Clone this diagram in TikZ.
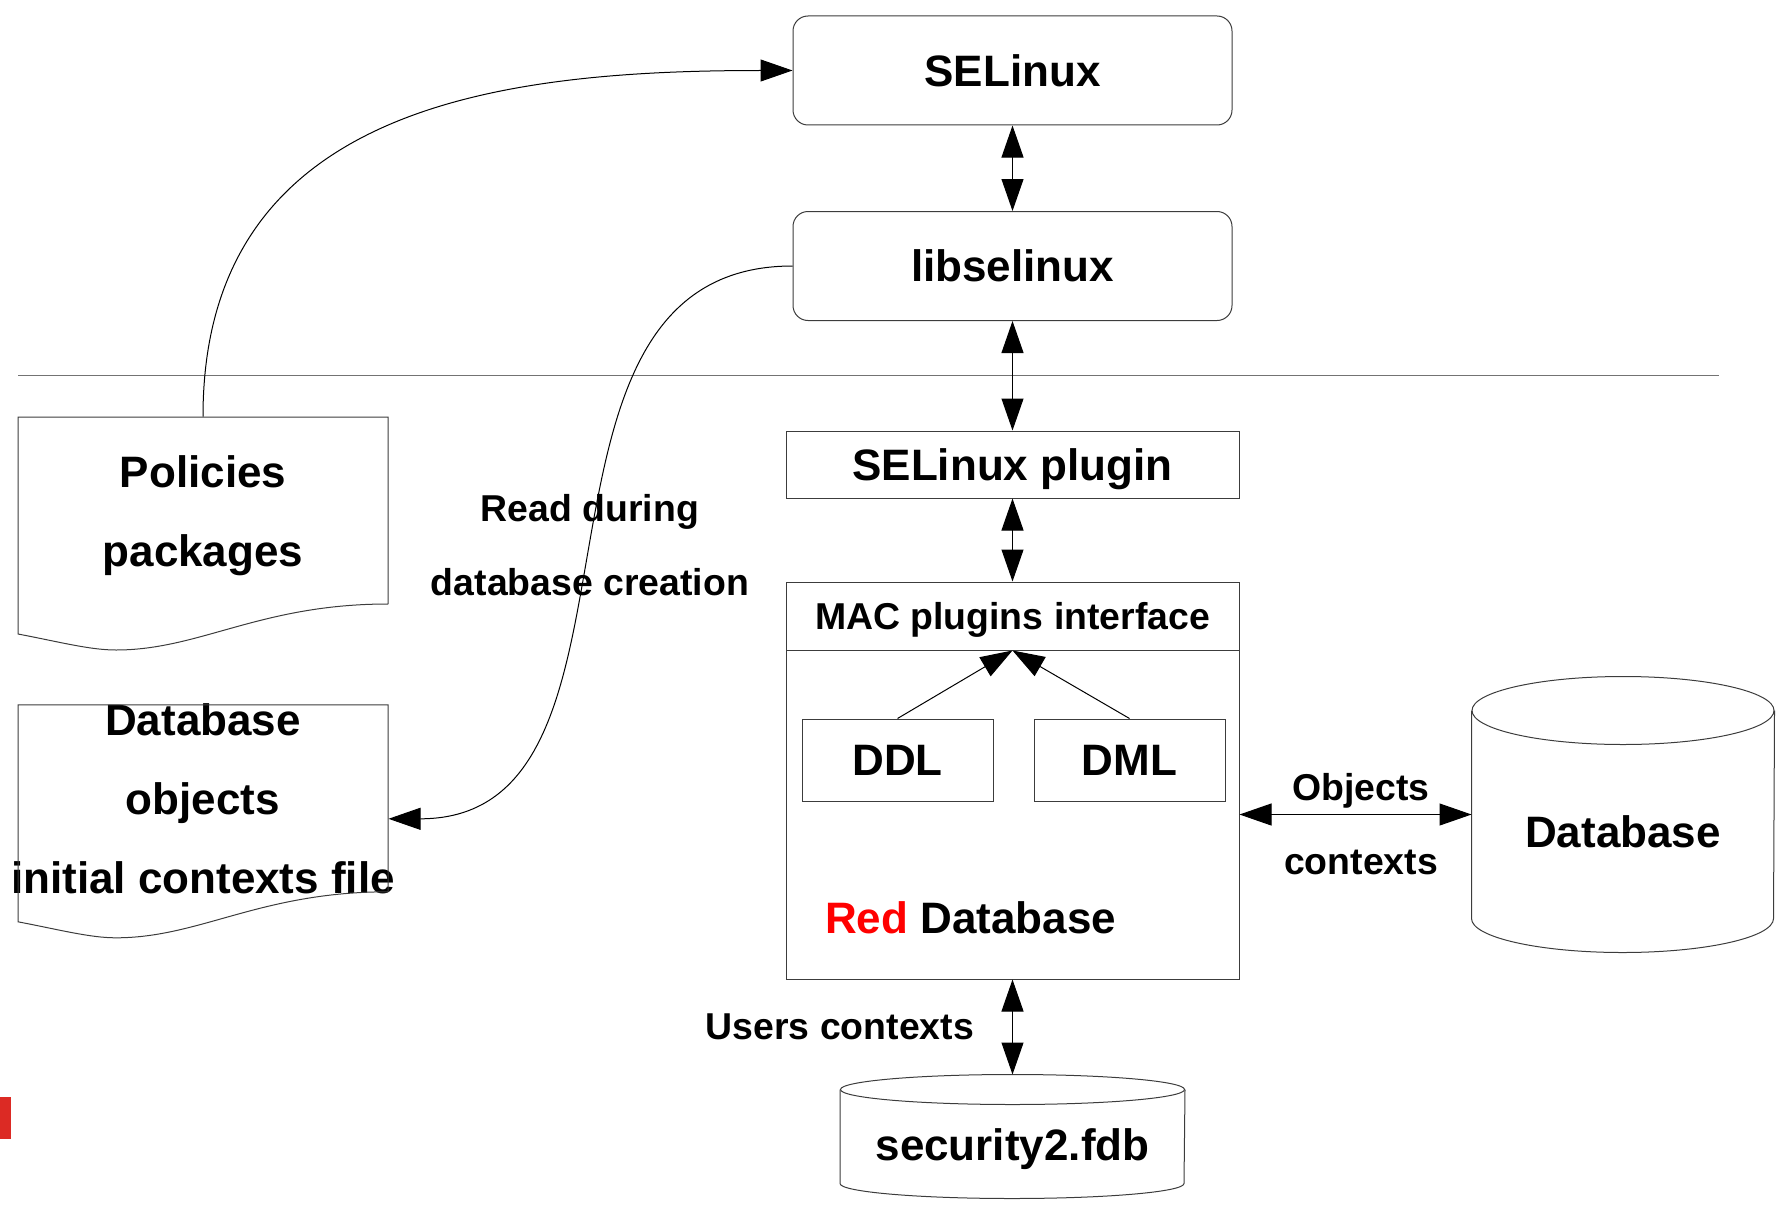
\documentclass[tikz,border=0pt]{standalone}
\usepackage{fontspec}
\setmainfont{Liberation Sans}
\usetikzlibrary{arrows.meta,positioning}
\definecolor{barred}{RGB}{220,42,36}
\definecolor{linegray}{RGB}{60,60,60}
\newcommand{\bigfont}{\fontsize{44pt}{79pt}\selectfont\bfseries}
\newcommand{\midfont}{\fontsize{37.4pt}{74pt}\selectfont\bfseries}
% outline of a document node: flat top, wavy bottom
\newcommand{\docshape}[1]{%
  \draw[linegray, shift={(#1.center)}] (185,93.5) -- (185,-93.5) -- (-185,-93.5) -- (-185,123.5)
    .. controls (-143,131.5) and (-113,139.5) .. (-87,139.5)
    .. controls (-3,139.5) and (57,93.5) .. (185,93.5);}
\tikzset{
    >={Triangle[length=32pt,width=22pt]}, % big solid arrow heads
    roundbox/.style={draw=linegray, rounded corners=15pt, minimum width=439pt, minimum height=109pt, font=\bigfont},
    plainbox/.style={draw=linegray, minimum width=453pt, font=\bigfont},
    smallbox/.style={draw=linegray, minimum width=191pt, minimum height=82pt, font=\bigfont},
    docbox/.style={minimum width=370pt, minimum height=187pt, inner sep=0pt, align=center, font=\bigfont},
    cylbox/.style={inner sep=0pt, font=\bigfont},
    textlbl/.style={inner sep=0pt, align=center, font=\midfont},
}

\begin{document}
\begin{tikzpicture}[x=1pt,y=-1pt,line width=1pt,on grid]
      \useasboundingbox (0,0) rectangle (1787,1204);
      \node (selinux) [roundbox] at (1012.5,70.5) {SELinux};
      \node (libsel) [roundbox, node distance=195.5pt, below of=selinux] {libselinux};
      \node (plugin) [plainbox, minimum height=67pt, text depth=0pt, node distance=198.5pt, below of=libsel] {SELinux plugin};
      \node (macif) [plainbox, minimum height=68pt, text depth=0pt, font=\midfont, node distance=151.5pt, below of=plugin] {MAC plugins interface};
      \node (reddb) [plainbox, minimum height=329pt, node distance=198.5pt, below of=macif] {};
      \node (ddl) [smallbox] at (897.5,760) {DDL};
      \node (dml) [smallbox] at (1129.5,760) {DML};
      \node (reddblbl) [cylbox] at (970.5,917.5) {\textcolor{red}{Red} Database};

      \node (db) [cylbox, minimum width=302pt, minimum height=241pt] at (1623,831.5) {Database};
      \node (sec) [cylbox, minimum width=344pt, minimum height=108pt, text height=43pt, node distance=329.5pt, below of=reddb] {security2.fdb};

      \node (pol) [docbox, text height=121pt] at (203,510.5) {Policies\\packages};
      \node (dbobj) [docbox] at (203,798.3) {Database\\objects\\\makebox[370pt]{initial contexts file}};
      \node (readlbl) [textlbl] at (590,545) {Read during\\database creation};

      % cylinders
      \draw[linegray] (db.north) ellipse [x radius=151pt, y radius=34pt];
      \draw[linegray] (db.north west) -- ([yshift=34pt]db.south west) arc [start angle=180, end angle=360, x radius=151pt, y radius=34pt] -- (db.north east);
      \draw[linegray] (sec.north) ellipse [x radius=172pt, y radius=15pt];
      \draw[linegray] (sec.north west) -- ([yshift=15pt]sec.south west) arc [start angle=180, end angle=360, x radius=172pt, y radius=15pt] -- (sec.north east);

      % documents
      \docshape{pol}
      \docshape{dbobj}

      % kernel / user space line
      \draw[black!55] (18,375) -- (1719,375);
      \fill[barred] (0,1097) rectangle (11,1139);

      \path[<->]
      (selinux)       edge  node {} (libsel)
      (libsel)        edge  node {} (plugin)
      (plugin)        edge  node {} (macif)
      (reddb.east)    edge  node[textlbl, xshift=5.5pt, yshift=-10pt] {Objects\\contexts} (reddb.east -| db.west)
      (reddb)         edge  node[textlbl, anchor=east, xshift=-38pt] {Users contexts} ([yshift=15pt]sec.north)
      ;
      \path[->]
      (ddl.north)     edge  node {} (macif.south)
      (dml.north)     edge  node {} (macif.south)
      ;
      \draw[->] (pol.north) .. controls +(0,-310) and +(-295,0) .. (selinux.west);
      \draw[->] (libsel.west) .. controls +(-298,0) and +(285,0) .. ([yshift=-20.5pt]dbobj.east);
\end{tikzpicture}
\end{document}
